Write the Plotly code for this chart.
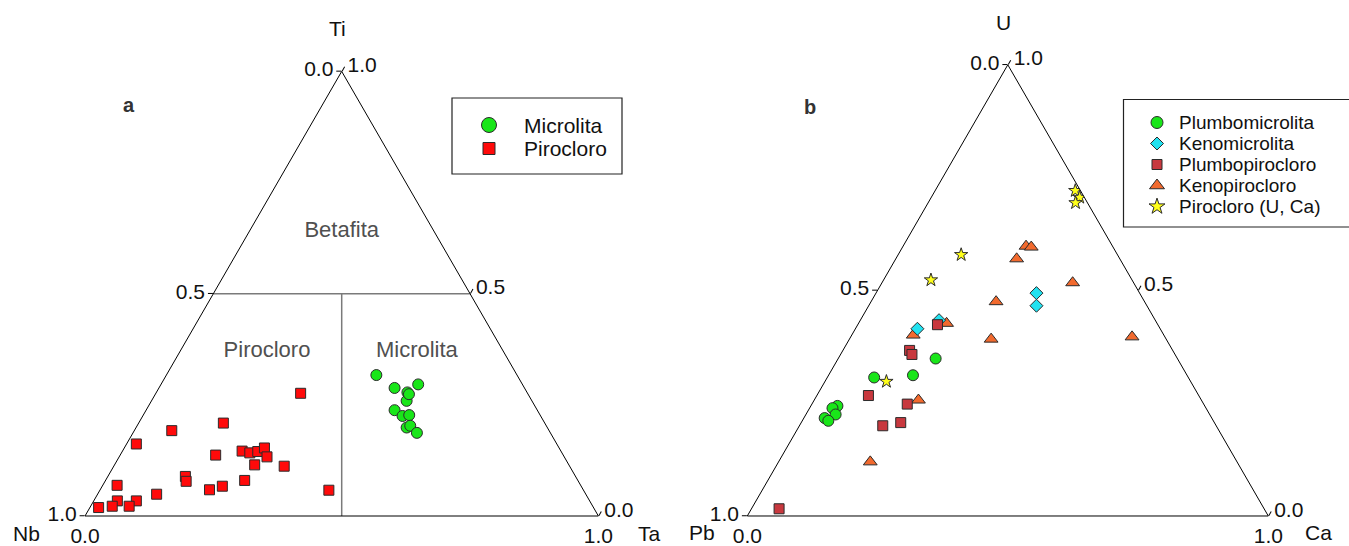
import plotly.graph_objects as go

W, H = 1349, 546
FONT = "Arial, Liberation Sans, sans-serif"

# ---------------- Panel a : Ti - Nb - Ta ----------------
microlita_ti = [0.317, 0.288, 0.296, 0.278, 0.259, 0.274, 0.238, 0.225, 0.227, 0.199, 0.203, 0.187]
microlita_nb = [0.274, 0.253, 0.203, 0.233, 0.244, 0.232, 0.278, 0.269, 0.255, 0.274, 0.265, 0.260]
microlita_ta = [0.409, 0.459, 0.501, 0.489, 0.497, 0.494, 0.484, 0.506, 0.518, 0.527, 0.532, 0.553]

pirocloro_ti = [0.276, 0.209, 0.192, 0.162, 0.146, 0.142, 0.145, 0.153, 0.133, 0.137, 0.115, 0.112,
                0.089, 0.078, 0.080, 0.067, 0.059, 0.058, 0.049, 0.069, 0.034, 0.034, 0.022, 0.022, 0.019]
pirocloro_nb = [0.442, 0.626, 0.735, 0.819, 0.621, 0.608, 0.591, 0.574, 0.579, 0.677, 0.612, 0.556,
                0.760, 0.764, 0.649, 0.699, 0.728, 0.496, 0.836, 0.903, 0.920, 0.883, 0.936, 0.903, 0.964]
pirocloro_ta = [0.282, 0.165, 0.073, 0.019, 0.233, 0.250, 0.264, 0.273, 0.288, 0.186, 0.273, 0.332,
                0.151, 0.158, 0.271, 0.234, 0.213, 0.446, 0.115, 0.028, 0.046, 0.083, 0.042, 0.075, 0.017]

# field boundaries (Ti, Nb, Ta)
bound_h_ti, bound_h_nb, bound_h_ta = [0.5, 0.5], [0.5, 0.0], [0.0, 0.5]
bound_v_ti, bound_v_nb, bound_v_ta = [0.5, 0.0], [0.25, 0.5], [0.25, 0.5]

field_names = ["Betafita", "Pirocloro", "Microlita"]
field_ti = [0.640, 0.371, 0.371]
field_nb = [0.180, 0.460, 0.168]
field_ta = [0.180, 0.169, 0.461]

# ---------------- Panel b : U - Pb - Ca ----------------
plumbomicrolita_u = [0.307, 0.312, 0.349, 0.244, 0.239, 0.225, 0.217, 0.211]
plumbomicrolita_pb = [0.603, 0.526, 0.464, 0.705, 0.717, 0.718, 0.743, 0.739]
plumbomicrolita_ca = [0.090, 0.162, 0.187, 0.051, 0.044, 0.057, 0.040, 0.050]

kenomicrolita_u = [0.415, 0.434, 0.494, 0.466]
kenomicrolita_pb = [0.466, 0.415, 0.198, 0.212]
kenomicrolita_ca = [0.119, 0.151, 0.308, 0.322]

plumbopirocloro_u = [0.016, 0.267, 0.200, 0.207, 0.248, 0.367, 0.358, 0.424]
plumbopirocloro_pb = [0.931, 0.634, 0.640, 0.602, 0.569, 0.505, 0.505, 0.423]
plumbopirocloro_ca = [0.053, 0.099, 0.160, 0.191, 0.183, 0.128, 0.137, 0.153]

kenopirocloro_u = [0.120, 0.257, 0.401, 0.427, 0.392, 0.475, 0.570, 0.598, 0.596, 0.517, 0.397]
kenopirocloro_pb = [0.704, 0.543, 0.481, 0.404, 0.336, 0.285, 0.198, 0.166, 0.157, 0.117, 0.063]
kenopirocloro_ca = [0.176, 0.200, 0.118, 0.169, 0.272, 0.240, 0.232, 0.236, 0.247, 0.366, 0.540]

pirocloro_uca_u = [0.298, 0.523, 0.579, 0.721, 0.706, 0.694]
pirocloro_uca_pb = [0.584, 0.386, 0.300, 0.010, 0.009, 0.023]
pirocloro_uca_ca = [0.118, 0.091, 0.121, 0.269, 0.285, 0.283]

# tick labels (ternary edges)
left_ticktext = ["1.0", "0.5", "0.0"]
right_ticktext = ["1.0", "0.5", "0.0"]
bottom_ticktext = ["1.0", "0.0"]

# ---------------- styles ----------------
EDGE = "#2b2b2b"
styles_a = {
    "Microlita": dict(symbol="circle", color="#19e619", size=11),
    "Pirocloro": dict(symbol="square", color="#ff0a0a", size=10),
}
styles_b = {
    "Plumbomicrolita": dict(symbol="circle", color="#19e619", size=11),
    "Kenomicrolita": dict(symbol="diamond", color="#22e2f0", size=10),
    "Plumbopirocloro": dict(symbol="square", color="#c8383e", size=10),
    "Kenopirocloro": dict(symbol="triangle-up", color="#f26a2e", size=12),
    "Pirocloro (U, Ca)": dict(symbol="star", color="#ffff1a", size=10),
}

fig = go.Figure()


def pts(name, a, b, c, st, sub):
    fig.add_trace(go.Scatterternary(
        a=a, b=b, c=c, mode="markers", name=name, subplot=sub, showlegend=False,
        marker=dict(symbol=st["symbol"], color=st["color"], size=st["size"],
                    line=dict(color=EDGE, width=1))))


# panel a boundaries
for ti, nb, ta in [(bound_h_ti, bound_h_nb, bound_h_ta), (bound_v_ti, bound_v_nb, bound_v_ta)]:
    fig.add_trace(go.Scatterternary(a=ti, b=nb, c=ta, mode="lines", subplot="ternary",
                                    line=dict(color="#7a7a7a", width=1.5), showlegend=False,
                                    hoverinfo="skip"))
fig.add_trace(go.Scatterternary(a=field_ti, b=field_nb, c=field_ta, mode="text", text=field_names,
                                subplot="ternary", textposition="middle center", showlegend=False,
                                textfont=dict(size=22, color="#505050", family=FONT), hoverinfo="skip"))

pts("Microlita", microlita_ti, microlita_nb, microlita_ta, styles_a["Microlita"], "ternary")
pts("Pirocloro", pirocloro_ti, pirocloro_nb, pirocloro_ta, styles_a["Pirocloro"], "ternary")

pts("Plumbomicrolita", plumbomicrolita_u, plumbomicrolita_pb, plumbomicrolita_ca,
    styles_b["Plumbomicrolita"], "ternary2")
pts("Kenopirocloro", kenopirocloro_u, kenopirocloro_pb, kenopirocloro_ca,
    styles_b["Kenopirocloro"], "ternary2")
pts("Kenomicrolita", kenomicrolita_u, kenomicrolita_pb, kenomicrolita_ca,
    styles_b["Kenomicrolita"], "ternary2")
pts("Plumbopirocloro", plumbopirocloro_u, plumbopirocloro_pb, plumbopirocloro_ca,
    styles_b["Plumbopirocloro"], "ternary2")
pts("Pirocloro (U, Ca)", pirocloro_uca_u, pirocloro_uca_pb, pirocloro_uca_ca,
    styles_b["Pirocloro (U, Ca)"], "ternary2")


def tern_layout(dx, dy):
    common = dict(showgrid=False, showline=True, linecolor="black", linewidth=1,
                  ticks="outside", ticklen=5, tickcolor="black", tickwidth=1,
                  tickfont=dict(size=21, color="#111111", family=FONT), tickmode="array",
                  title=dict(text=""))
    return dict(
        domain=dict(x=dx, y=dy), sum=1, bgcolor="rgba(0,0,0,0)",
        aaxis=dict(common, tickvals=[0, 0.5, 1], ticktext=left_ticktext),
        baxis=dict(common, tickvals=[0, 1], ticktext=bottom_ticktext, ticklen=0),
        caxis=dict(common, tickvals=[0, 0.5, 1], ticktext=right_ticktext),
    )


fig.update_layout(
    width=W, height=H, margin=dict(l=0, r=0, t=0, b=0),
    paper_bgcolor="white", plot_bgcolor="white", showlegend=False,
    font=dict(family=FONT, color="#111111"),
    ternary=tern_layout([85 / W, 598.4 / W], [30 / H, 474.6 / H]),
    ternary2=tern_layout([747.3 / W, 1268.3 / W], [30 / H, 481.2 / H]),
    xaxis=dict(range=[0, W], visible=False, fixedrange=True),
    yaxis=dict(range=[H, 0], visible=False, fixedrange=True),
)

# corner (component) labels and panel letters, in pixel space of the overlay axes
corner_labels = [("Ti", 337, 28), ("Nb", 26, 533), ("Ta", 649, 533),
                 ("U", 1003, 22), ("Pb", 702, 532), ("Ca", 1318, 532)]
for txt, x, y in corner_labels:
    fig.add_annotation(x=x, y=y, xref="x", yref="y", text=txt, showarrow=False,
                       font=dict(size=21, color="#111111", family=FONT))
for txt, x, y in [("a", 129, 105), ("b", 810, 107)]:
    fig.add_annotation(x=x, y=y, xref="x", yref="y", text="<b>%s</b>" % txt, showarrow=False,
                       font=dict(size=20, color="#333333", family=FONT))


# custom legends (box, symbol, label)
def legend(styles, box, sym_x, text_x, ys, sizes, fsize):
    fig.add_shape(type="rect", xref="x", yref="y", x0=box[0], x1=box[1], y0=box[2], y1=box[3],
                  line=dict(color="#222222", width=1.2), fillcolor="rgba(0,0,0,0)")
    for (name, st), y, s in zip(styles.items(), ys, sizes):
        fig.add_trace(go.Scatter(x=[sym_x], y=[y], mode="markers", showlegend=False, hoverinfo="skip",
                                 marker=dict(symbol=st["symbol"], color=st["color"], size=s,
                                             line=dict(color=EDGE, width=1))))
        fig.add_annotation(x=text_x, y=y, xref="x", yref="y", text=name, showarrow=False,
                           xanchor="left", yanchor="middle",
                           font=dict(size=fsize, color="#111111", family=FONT))


legend(styles_a, (452, 622, 98, 174), 489, 522, [125, 148.5], [15, 12], 21)
legend(styles_b, (1123.5, 1362, 99.5, 227), 1157, 1177, [122.5, 143.5, 164.5, 185.5, 206.5],
       [12, 10, 10, 13, 12], 19)

fig.write_html("out.html", config={"displayModeBar": False},
               post_script="document.body.style.margin='0';")
